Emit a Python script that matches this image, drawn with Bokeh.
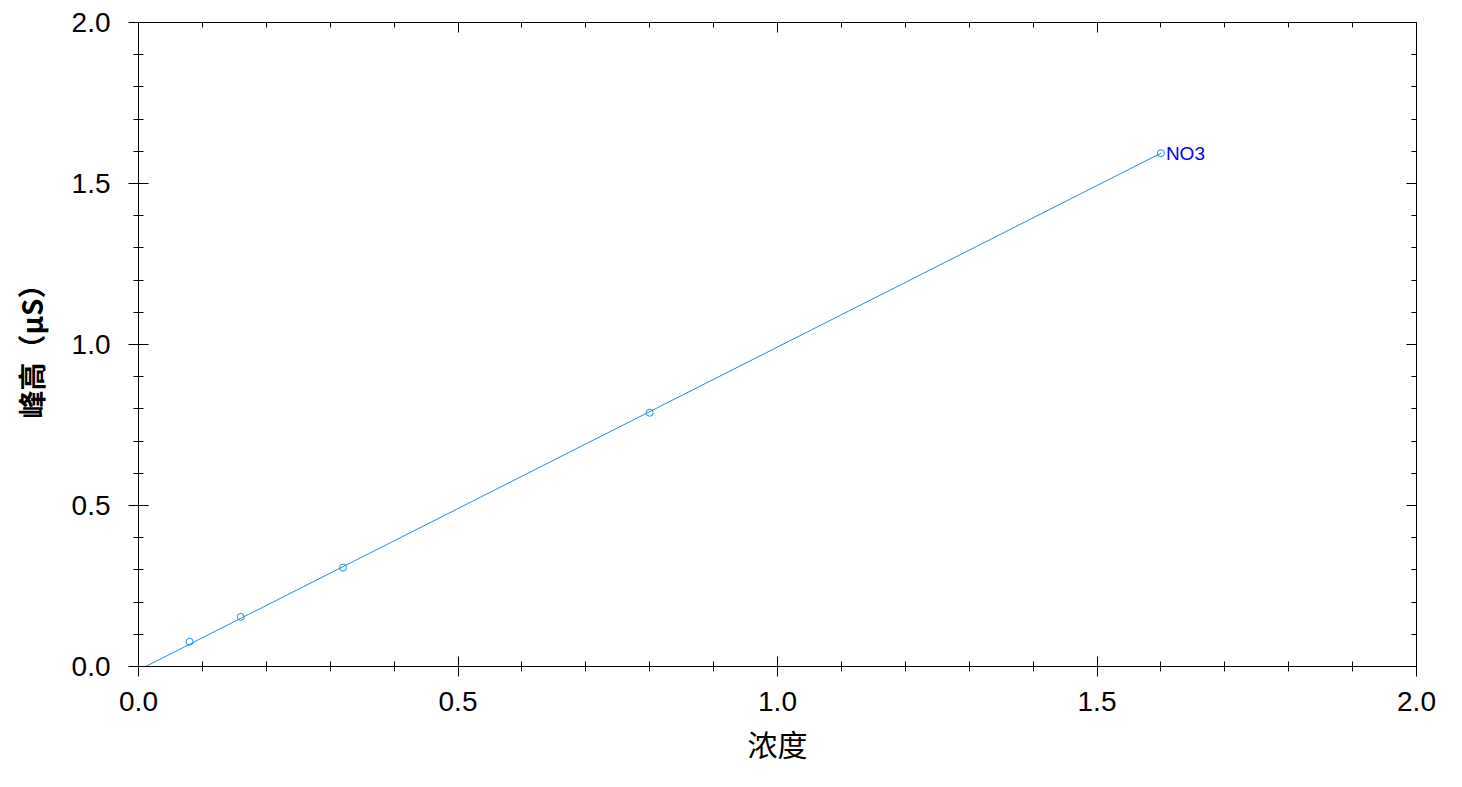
from bokeh.plotting import figure
from bokeh.models import (Range1d, LinearAxis, FixedTicker, PrintfTickFormatter,
                          ColumnDataSource, CustomLabelingPolicy)
from bokeh.core.properties import value
from bokeh.embed import file_html
from bokeh.resources import INLINE

# ---- data ----
conc = [0.08, 0.16, 0.32, 0.80, 1.60]
peak = [0.077, 0.154, 0.307, 0.788, 1.594]
fit_x = [0.011, 1.60]
fit_y = [0.0, 1.594]
series_name = ["NO3"]
label_x = [1.60]
label_y = [1.594]
major_ticks = [0.0, 0.5, 1.0, 1.5, 2.0]
minor_ticks = [0.0, 0.1, 0.2, 0.3, 0.4, 0.5, 0.6, 0.7, 0.8, 0.9, 1.0,
               1.1, 1.2, 1.3, 1.4, 1.5, 1.6, 1.7, 1.8, 1.9, 2.0]
x_title = "浓度"
y_title = "峰高（μS）"

LINE_COLOR = "#1e8fdc"

p = figure(frame_width=1278, frame_height=644,
           min_border_left=138, min_border_right=30,
           min_border_top=20, min_border_bottom=107,
           x_range=Range1d(0, 2), y_range=Range1d(0, 2),
           x_axis_location=None, y_axis_location=None,
           output_backend="svg", toolbar_location=None)
p.xgrid.visible = False
p.ygrid.visible = False
p.outline_line_color = "black"
p.outline_line_width = 1
p.background_fill_color = "white"
p.border_fill_color = "white"

no_labels = CustomLabelingPolicy(code="""
    for (let i = 0; i < indices.size; i++) { indices.unset(i) }
    return indices
""")


def make_axis(outside, show_labels):
    ax = LinearAxis(ticker=FixedTicker(ticks=major_ticks, minor_ticks=minor_ticks),
                    formatter=PrintfTickFormatter(format="%.1f"))
    ax.axis_line_color = "black"
    ax.major_tick_line_color = "black"
    ax.minor_tick_line_color = "black"
    ax.major_tick_in = 10
    ax.minor_tick_in = 5
    ax.major_tick_out = 10 if outside else 0
    ax.minor_tick_out = 5 if outside else 0
    ax.major_label_text_font = "Liberation Sans"
    ax.major_label_text_color = "black"
    ax.major_label_text_font_size = "28px"
    if not show_labels:
        ax.major_label_policy = no_labels
        ax.major_label_standoff = 0
    return ax


xb = make_axis(True, True)
xb.major_label_standoff = 15
xb.axis_label = x_title
xb.axis_label_text_font = "Noto Sans CJK SC"
xb.axis_label_text_font_size = "30px"
xb.axis_label_text_font_style = "normal"
xb.axis_label_text_color = "black"
xb.axis_label_standoff = 7
p.add_layout(xb, "below")

yl = make_axis(True, True)
yl.major_label_standoff = 18
yl.axis_label = y_title
yl.axis_label_text_font = "Noto Sans CJK SC"
yl.axis_label_text_font_size = "28px"
yl.axis_label_text_font_style = "bold"
yl.axis_label_text_color = "black"
yl.axis_label_standoff = 18
p.add_layout(yl, "left")

p.add_layout(make_axis(False, False), "above")
p.add_layout(make_axis(False, False), "right")

# regression line and data points
p.line(fit_x, fit_y, line_color=LINE_COLOR, line_width=1)
p.scatter(conc, peak, marker="circle", size=7, line_color=LINE_COLOR,
          fill_color=None, line_width=1)

lab = ColumnDataSource(dict(x=label_x, y=label_y, t=series_name))
p.text(x="x", y="y", text="t", source=lab, x_offset=5,
       text_baseline="middle", text_align="left",
       text_font=value("Liberation Sans"), text_font_size="19px",
       text_color="#0000ff")

open("out.html", "w").write(file_html(p, INLINE))
